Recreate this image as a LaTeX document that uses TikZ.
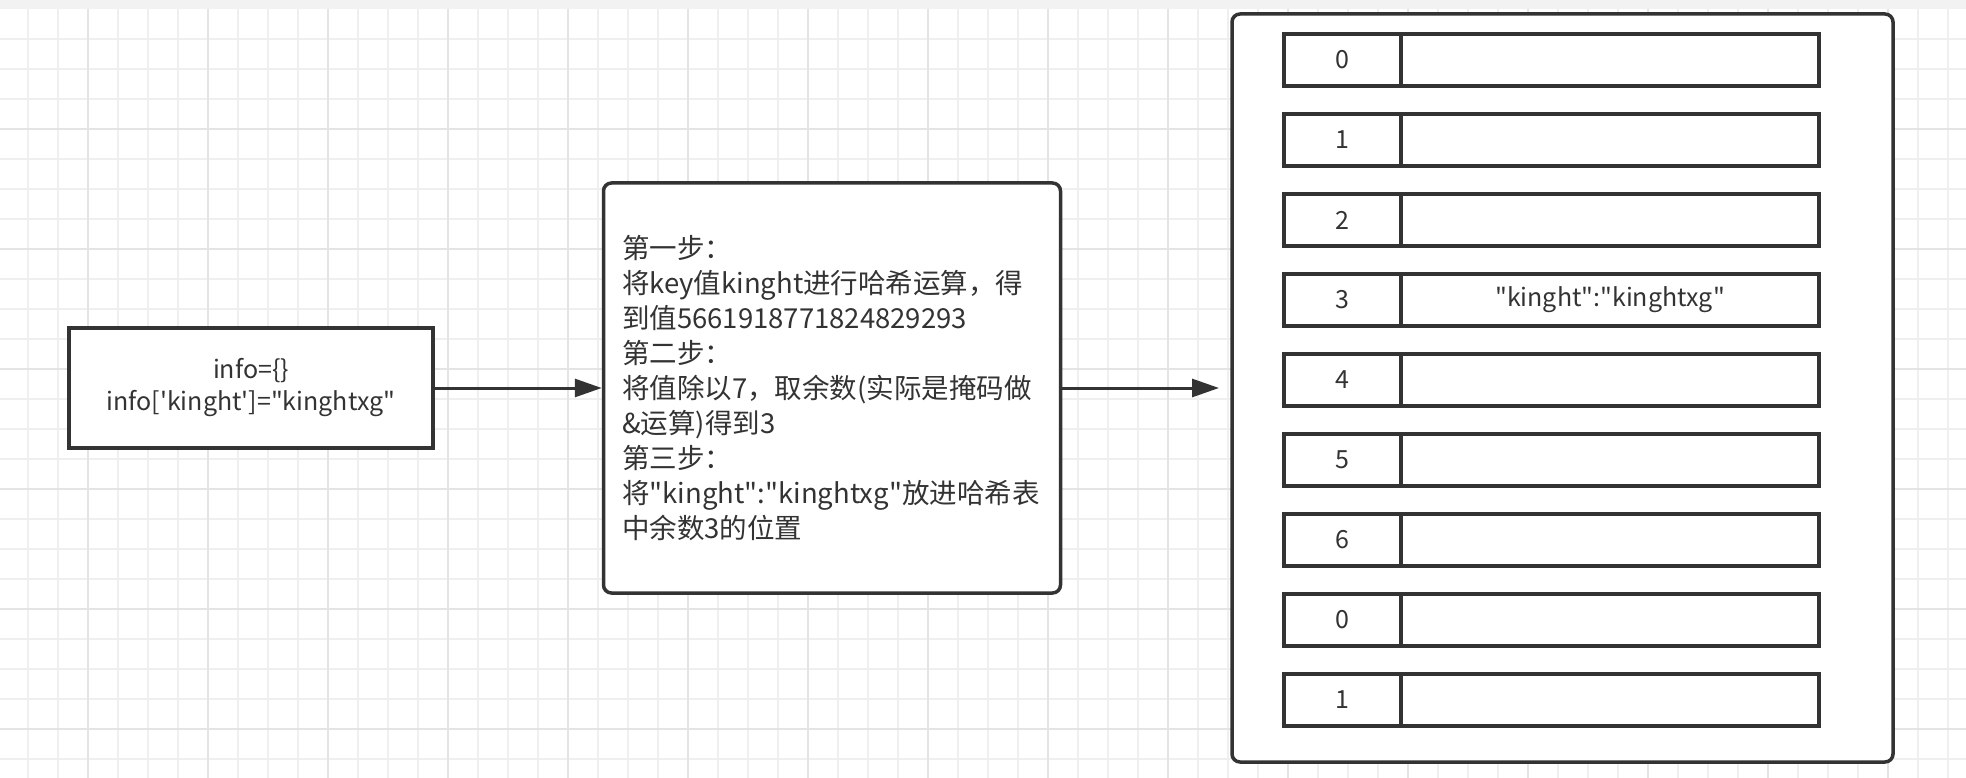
\documentclass[tikz,border=0pt]{standalone}
\usepackage{fontspec}
\setmainfont{Noto Sans CJK SC}[Ligatures=TeXOff]
\usetikzlibrary{arrows.meta}
\definecolor{ink}{HTML}{333333}
\definecolor{gridminor}{HTML}{EFEFEF}
\definecolor{gridmajor}{HTML}{E4E4E4}
\definecolor{topband}{HTML}{F2F2F2}

\begin{document}
\begin{tikzpicture}[x=1pt,y=-1pt,
  box/.style={draw=ink,text=ink,line width=3.5pt,fill=white,inner sep=0pt},
  cell/.style={box,outer sep=0pt,minimum height=52pt,font=\fontsize{25}{30}\selectfont},
  flow/.style={draw=ink,line width=3pt,-{Triangle[length=27pt,width=18pt]}}]
\useasboundingbox (0,0) rectangle (1966,778);
\fill[white] (0,0) rectangle (1966,778);
\fill[topband] (0,0) rectangle (1966,9);
\foreach \gx in {28,58,...,1958} \draw[gridminor,line width=1.5pt] (\gx,9) -- (\gx,778);
\foreach \gy in {39,69,...,759} \draw[gridminor,line width=1.5pt] (0,\gy) -- (1966,\gy);
\foreach \gx in {88,208,...,1888} \draw[gridmajor,line width=1.5pt] (\gx,9) -- (\gx,778);
\foreach \gy in {129,249,...,729} \draw[gridmajor,line width=1.5pt] (0,\gy) -- (1966,\gy);

\node[box,minimum width=364pt,minimum height=120pt,align=center,
  font=\fontsize{25}{32}\selectfont] (dict) at (251,388)
  {info=\{\}\\info['kinght']="kinghtxg"};
\node[box,rounded corners=8pt,minimum width=457pt,minimum height=410pt,
  text width=420pt,inner xsep=18.5pt,align=left,
  font=\fontsize{27.5}{35}\selectfont] (calc) at (832,388)
  {第一步：\\将key值kinght进行哈希运算，得\\到值5661918771824829293\\第二步：\\将值除以7，取余数(实际是掩码做\\\&运算)得到3\\第三步：\\将"kinght":"kinghtxg"放进哈希表\\中余数3的位置};
\node[box,rounded corners=8pt,minimum width=661pt,minimum height=748pt] (table) at (1562.5,388) {};
\coordinate (tablein) at (1219,388);

\foreach \i/\lab in {0/0,1/1,2/2,3/3,4/4,5/5,6/6,7/0,8/1} {
  \node[cell,minimum width=117pt] (k\i) at (1342.5,60+80*\i) {\lab};
  \node[cell,minimum width=418pt,anchor=west] (v\i) at (k\i.east) {};
}
\node[text=ink,font=\fontsize{25}{30}\selectfont] (pair) at (v3.center) {"kinght":"kinghtxg"};

\draw[flow] (dict.east) -- (calc.west);
\draw[flow] (calc.east) -- (tablein);
\end{tikzpicture}
\end{document}
